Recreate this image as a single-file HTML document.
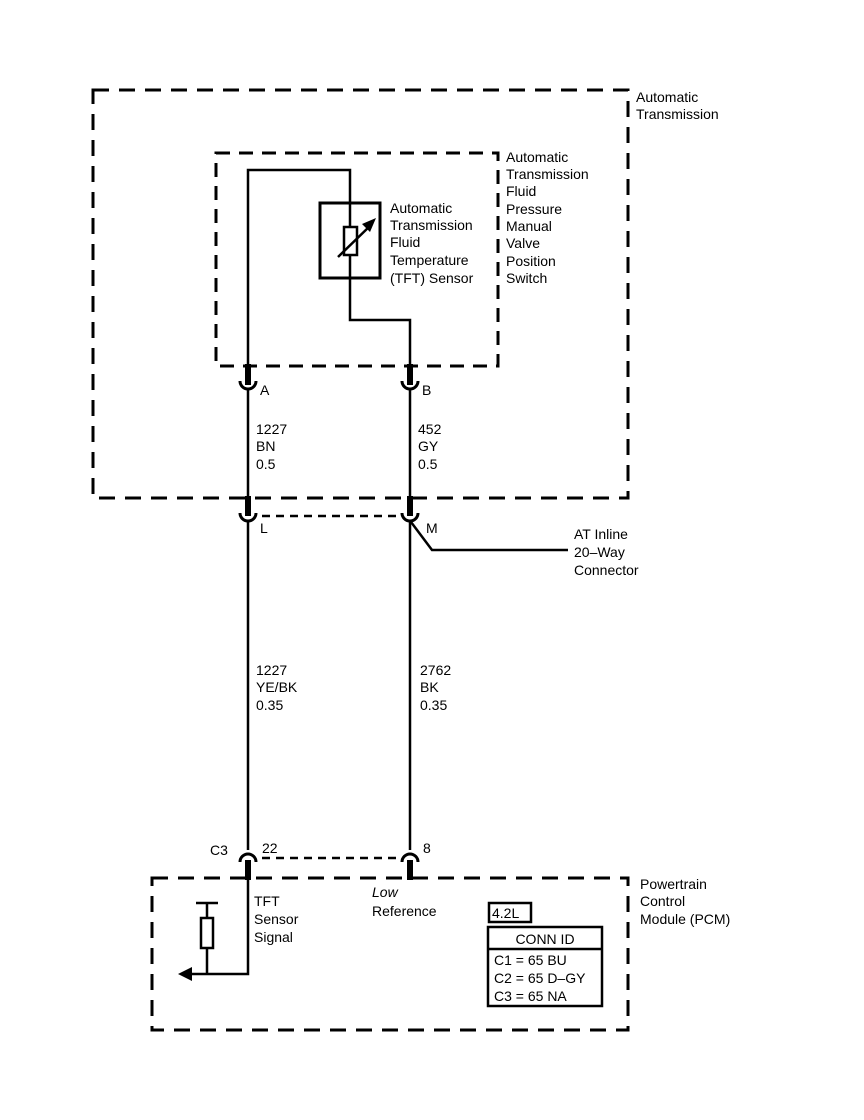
<!DOCTYPE html>
<html><head><style>
html,body{margin:0;padding:0;background:#fff}
svg{display:block}
text{font-family:"Liberation Sans",Arial,sans-serif;font-size:14px;fill:#000}
</style></head><body>
<svg width="864" height="1120" viewBox="0 0 864 1120" xmlns="http://www.w3.org/2000/svg">
<g fill="none" stroke="#000">
<!-- outer dashed box -->
<rect x="93" y="90" width="535" height="408" stroke-width="3" stroke-dasharray="16,10"/>
<!-- inner dashed box -->
<rect x="216" y="153" width="282" height="213" stroke-width="3" stroke-dasharray="14,9"/>
<!-- PCM box -->
<rect x="152" y="878" width="476" height="152" stroke-width="3" stroke-dasharray="16,10"/>
<!-- dashed connector links -->
<line x1="262" y1="516" x2="396" y2="516" stroke-width="2.5" stroke-dasharray="8,6"/>
<line x1="262" y1="858" x2="396" y2="858" stroke-width="2.5" stroke-dasharray="8,6"/>

<!-- inner wiring -->
<polyline points="248,366 248,170 350,170 350,320 410,320 410,366" stroke-width="2.5"/>
<rect x="320" y="203" width="60" height="75" stroke-width="3"/>
<rect x="344" y="227" width="13" height="28" stroke-width="2.5" fill="#fff"/>
<line x1="338" y1="257" x2="372" y2="224" stroke-width="2.5"/>
<polygon points="376,218 362,224 370,232" fill="#000" stroke="none"/>

<!-- stubs upper -->
<line x1="248" y1="364" x2="248" y2="385" stroke-width="6"/>
<line x1="410" y1="364" x2="410" y2="385" stroke-width="6"/>
<path d="M240,381 A8,8 0 0 0 256,381" stroke-width="3"/>
<path d="M402,381 A8,8 0 0 0 418,381" stroke-width="3"/>
<line x1="248" y1="389" x2="248" y2="500" stroke-width="2.5"/>
<line x1="410" y1="389" x2="410" y2="500" stroke-width="2.5"/>
<line x1="248" y1="496" x2="248" y2="516" stroke-width="6"/>
<line x1="410" y1="496" x2="410" y2="516" stroke-width="6"/>
<path d="M240,513 A8,8 0 0 0 256,513" stroke-width="3"/>
<path d="M402,513 A8,8 0 0 0 418,513" stroke-width="3"/>
<line x1="248" y1="521" x2="248" y2="850" stroke-width="2.5"/>
<line x1="410" y1="521" x2="410" y2="850" stroke-width="2.5"/>
<polyline points="411,522 432,550 568,550" stroke-width="2.5"/>

<!-- lower caps -->
<path d="M240,862 A8,8 0 0 1 256,862" stroke-width="3"/>
<path d="M402,862 A8,8 0 0 1 418,862" stroke-width="3"/>
<line x1="248" y1="860" x2="248" y2="880" stroke-width="6"/>
<line x1="410" y1="860" x2="410" y2="880" stroke-width="6"/>

<!-- PCM internals -->
<polyline points="248,878 248,974 188,974" stroke-width="2.5"/>
<line x1="196" y1="903" x2="218" y2="903" stroke-width="2.5"/>
<line x1="207" y1="903" x2="207" y2="974" stroke-width="2.5"/>
<rect x="201" y="918" width="12" height="30" stroke-width="2.5" fill="#fff"/>
<polygon points="178,974 192,967 192,981" fill="#000" stroke="none"/>
<rect x="489" y="903" width="42" height="19" stroke-width="2.5"/>
<rect x="488" y="927" width="114" height="79" stroke-width="2.5"/>
<line x1="488" y1="949" x2="602" y2="949" stroke-width="2.5"/>
</g>

<text x="636" y="102">Automatic</text>
<text x="636" y="119">Transmission</text>
<text x="506" y="162">Automatic</text>
<text x="506" y="179">Transmission</text>
<text x="506" y="196">Fluid</text>
<text x="506" y="214">Pressure</text>
<text x="506" y="231">Manual</text>
<text x="506" y="248">Valve</text>
<text x="506" y="266">Position</text>
<text x="506" y="283">Switch</text>
<text x="390" y="213">Automatic</text>
<text x="390" y="230">Transmission</text>
<text x="390" y="247">Fluid</text>
<text x="390" y="265">Temperature</text>
<text x="390" y="283">(TFT) Sensor</text>
<text x="260" y="395">A</text>
<text x="422" y="395">B</text>
<text x="256" y="434">1227</text>
<text x="256" y="451">BN</text>
<text x="256" y="469">0.5</text>
<text x="418" y="434">452</text>
<text x="418" y="451">GY</text>
<text x="418" y="469">0.5</text>
<text x="260" y="533">L</text>
<text x="426" y="533">M</text>
<text x="574" y="539">AT Inline</text>
<text x="574" y="557">20–Way</text>
<text x="574" y="575">Connector</text>
<text x="256" y="675">1227</text>
<text x="256" y="692">YE/BK</text>
<text x="256" y="710">0.35</text>
<text x="420" y="675">2762</text>
<text x="420" y="692">BK</text>
<text x="420" y="710">0.35</text>
<text x="210" y="855">C3</text>
<text x="262" y="853">22</text>
<text x="423" y="853">8</text>
<text x="640" y="889">Powertrain</text>
<text x="640" y="906">Control</text>
<text x="640" y="924">Module (PCM)</text>
<text x="254" y="906">TFT</text>
<text x="254" y="924">Sensor</text>
<text x="254" y="942">Signal</text>
<text x="372" y="897" font-style="italic">Low</text>
<text x="372" y="916">Reference</text>
<text x="492" y="918">4.2L</text>
<text x="545" y="944" text-anchor="middle">CONN ID</text>
<text x="494" y="965">C1 = 65 BU</text>
<text x="494" y="983">C2 = 65 D–GY</text>
<text x="494" y="1001">C3 = 65 NA</text>
</svg>
</body></html>
